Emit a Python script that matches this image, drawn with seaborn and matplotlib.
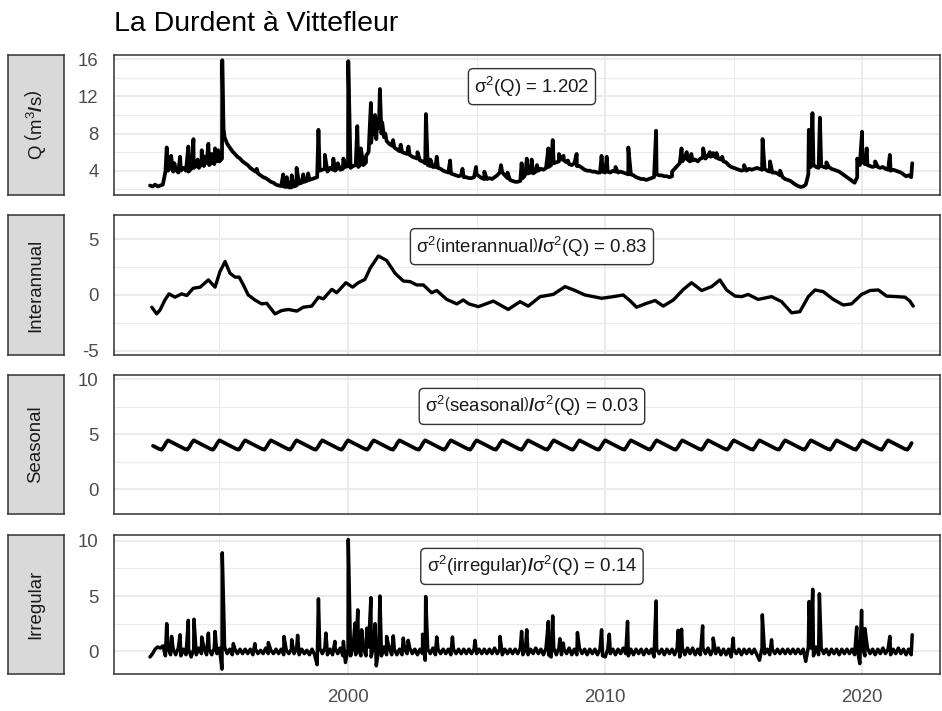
import numpy as np
import pandas as pd
import matplotlib
matplotlib.use("Agg")
import matplotlib.pyplot as plt
import seaborn as sns

# ---------------------------------------------------------------------------
# Daily discharge decomposition of La Durdent at Vittefleur (values in m3/s)
# ---------------------------------------------------------------------------
title = "La Durdent à Vittefleur"
panel_names = [r"Q $\left(\mathrm{m}^{3}\mathbf{/}\mathrm{s}\right)$",
               "Interannual", "Seasonal", "Irregular"]
variance_labels = [
    r"$\mathrm{σ}^{2}\left(\mathrm{Q}\right)$ = 1.202",
    r"$\mathrm{σ}^{2}\left(\mathrm{interannual}\right)\mathbf{/}\mathrm{σ}^{2}\left(\mathrm{Q}\right)$ = 0.83",
    r"$\mathrm{σ}^{2}\left(\mathrm{seasonal}\right)\mathbf{/}\mathrm{σ}^{2}\left(\mathrm{Q}\right)$ = 0.03",
    r"$\mathrm{σ}^{2}\left(\mathrm{irregular}\right)\mathbf{/}\mathrm{σ}^{2}\left(\mathrm{Q}\right)$ = 0.14",
]
year_ticks = [2000, 2010, 2020]
year_minor = [1995, 2005, 2015]

# observed discharge: background flow every 0.1 year from 1992.3
q_start = 1992.3
q_base = [
    2.4, 2.3, 2.5, 2.3, 2.4, 2.5, 3.9,
    4.0, 4.3, 3.9, 4.1, 3.8, 4.0, 4.3, 4.0, 3.9, 4.2,
    4.3, 4.5, 4.3, 4.7, 4.5, 4.8, 4.6, 4.9, 4.7, 5.0,
    5.0, 5.3, 7.6, 6.9, 6.5, 6.1, 5.8, 5.5, 5.3, 5.0,
    4.8, 4.6, 4.3, 4.1, 3.9, 3.7, 3.5, 3.3, 3.2, 3.0,
    2.8, 2.7, 2.5, 2.4, 2.35, 2.3, 2.25, 2.2, 2.2, 2.3,
    2.4, 2.6, 2.7, 2.8, 2.9, 3.0, 3.1, 3.2, 3.3, 4.0,
    4.1, 4.2, 3.9, 4.3, 4.1, 4.0, 4.3, 4.1, 4.2, 4.4,
    4.5, 4.3, 4.5, 4.6, 4.4, 4.7, 4.6, 4.9, 6.0, 7.0,
    8.0, 7.4, 8.6, 8.0, 7.6, 7.2, 6.9, 6.7, 6.5, 6.3,
    6.1, 6.0, 5.9, 5.8, 5.7, 5.5, 5.4, 5.3, 5.1, 5.0,
    4.8, 4.6, 4.5, 4.4, 4.4, 4.3, 4.2, 4.0, 3.9, 3.8,
    3.7, 3.6, 3.5, 3.4, 3.5, 3.3, 3.3, 3.2, 3.2, 3.3,
    3.6, 3.4, 3.2, 3.1, 3.1, 3.2, 3.1, 3.3, 3.5, 3.8,
    3.8, 3.5, 3.2, 3.0, 2.9, 2.8, 2.8, 2.9, 3.2, 3.6,
    3.7, 3.8, 3.7, 3.9, 4.0, 4.2, 4.1, 4.3, 4.4, 4.6,
    4.8, 4.9, 5.0, 5.2, 5.1, 4.9, 4.7, 4.6, 4.8, 4.5,
    4.5, 4.3, 4.1, 4.0, 4.0, 3.9, 3.9, 3.8, 3.8, 3.9,
    3.8, 3.9, 3.8, 4.0, 3.9, 3.8, 3.9, 3.8, 3.7, 3.6,
    3.6, 3.5, 3.3, 3.2, 3.1, 3.1, 3.0, 3.1, 3.2, 3.3,
    3.6, 3.5, 3.5, 3.4, 3.4, 3.3, 3.4, 4.2, 4.5, 4.8,
    5.0, 5.4, 5.2, 5.0, 5.1, 5.2, 5.0, 5.3, 5.4, 5.3,
    5.6, 5.5, 5.6, 5.4, 5.3, 5.2, 5.0, 4.9, 4.6, 4.4,
    4.3, 4.2, 4.1, 4.0, 4.1, 4.0, 4.2, 4.1, 4.2, 4.3,
    4.2, 4.1, 4.2, 4.0, 3.9, 3.8, 3.8, 3.7, 3.5, 3.3,
    3.1, 3.0, 2.9, 2.7, 2.5, 2.35, 2.25, 2.3, 2.5, 3.6,
    4.4, 4.6, 4.4, 4.3, 4.5, 4.4, 4.3, 4.4, 4.2, 4.1,
    4.0, 3.9, 3.7, 3.5, 3.3, 3.1, 2.9, 2.7, 3.3, 4.6,
    5.0, 4.7, 4.6, 4.5, 4.4, 4.5, 4.4, 4.3, 4.4, 4.2,
    4.1, 4.0, 4.1, 4.0, 3.9, 3.8, 3.6, 3.4, 3.5, 3.3,
]
# flood peaks
q_peak_year = [
    1992.95, 1993.12, 1993.25, 1993.47, 1993.79, 1993.99, 1994.15, 1994.31,
    1994.45, 1994.57, 1994.70, 1994.83, 1994.95, 1995.11, 1995.16, 1996.45,
    1997.48, 1997.62, 1997.81, 1998.00, 1998.26, 1998.45, 1998.85, 1999.10,
    1999.43, 1999.60, 1999.82, 2000.01, 2000.36, 2000.50, 2000.70, 2000.89,
    2000.97, 2001.05, 2001.14, 2001.24, 2001.33, 2001.45, 2001.75, 2002.05,
    2002.35, 2002.70, 2003.03, 2003.20, 2003.45, 2003.97, 2004.45, 2004.98,
    2005.30, 2005.95, 2006.20, 2006.75, 2006.95, 2007.14, 2007.35, 2007.79,
    2007.96, 2008.20, 2008.38, 2008.55, 2008.89, 2009.86, 2010.06, 2010.40,
    2010.90, 2011.98, 2012.60, 2012.97, 2013.17, 2013.35, 2013.81, 2014.07,
    2014.20, 2014.33, 2014.55, 2015.40, 2016.12, 2016.41, 2016.80, 2017.92,
    2018.06, 2018.35, 2018.60, 2019.80, 2019.99, 2020.17, 2020.50, 2021.07,
    2021.94,
]
q_peak_value = [
    6.5, 5.6, 4.8, 5.5, 6.6, 7.4, 5.2, 6.2,
    5.5, 6.9, 5.8, 6.4, 6.2, 15.9, 8.5, 4.2,
    3.6, 3.3, 3.5, 4.3, 3.6, 3.7, 8.4, 5.7,
    5.3, 4.8, 5.3, 15.8, 8.8, 6.4, 5.6, 11.3,
    9.0, 10.0, 9.6, 12.8, 9.2, 8.0, 7.3, 6.8,
    6.6, 6.0, 10.1, 5.2, 5.5, 5.1, 4.2, 4.4,
    3.9, 4.6, 3.8, 4.8, 5.3, 5.2, 4.6, 6.4,
    7.3, 5.8, 5.6, 5.1, 5.8, 5.6, 5.5, 4.4,
    6.5, 8.3, 3.9, 6.4, 6.0, 5.8, 6.4, 6.0,
    5.9, 5.9, 5.5, 4.6, 7.4, 5.0, 4.0, 8.4,
    10.2, 9.7, 4.9, 5.3, 8.2, 6.4, 5.0, 5.7,
    4.8,
]

# interannual component (anomaly)
trend_year = [
    1992.37, 1992.56, 1992.69, 1992.88, 1993.04, 1993.27, 1993.53, 1993.73,
    1993.98, 1994.25, 1994.57, 1994.83, 1995.02, 1995.22, 1995.41, 1995.61,
    1995.77, 1995.93, 1996.12, 1996.38, 1996.64, 1996.84, 1997.16, 1997.42,
    1997.68, 1998.01, 1998.26, 1998.59, 1998.85, 1999.04, 1999.37, 1999.56,
    1999.92, 2000.18, 2000.40, 2000.66, 2000.86, 2001.18, 2001.50, 2001.83,
    2002.15, 2002.41, 2002.67, 2002.93, 2003.25, 2003.45, 2003.84, 2004.23,
    2004.48, 2004.70, 2005.07, 2005.65, 2006.23, 2006.69, 2007.01, 2007.47,
    2007.98, 2008.44, 2008.83, 2009.21, 2009.54, 2009.86, 2010.32, 2010.70,
    2010.96, 2011.22, 2011.61, 2011.94, 2012.26, 2012.65, 2013.04, 2013.36,
    2013.75, 2014.14, 2014.46, 2014.72, 2015.05, 2015.31, 2015.56, 2015.95,
    2016.47, 2016.86, 2017.25, 2017.57, 2017.90, 2018.16, 2018.48, 2018.87,
    2019.26, 2019.58, 2019.97, 2020.30, 2020.62, 2020.94, 2021.33, 2021.66,
    2021.85, 2021.98,
]
trend_value = [
    -1.1, -1.7, -1.35, -0.45, 0.1, -0.2, 0.1, -0.05,
    0.6, 0.7, 1.35, 0.7, 2.1, 3.0, 1.95, 1.6,
    1.6, 0.9, 0.0, -0.45, -0.8, -0.75, -1.7, -1.4,
    -1.3, -1.45, -1.1, -1.0, -0.2, -0.35, 0.5, 0.2,
    1.1, 0.7, 1.1, 1.4, 2.4, 3.5, 3.1, 1.95,
    1.25, 1.2, 0.9, 0.9, 0.2, 0.4, -0.4, -0.8,
    -0.45, -0.8, -1.05, -0.55, -1.3, -0.6, -1.0, -0.15,
    0.05, 0.75, 0.4, 0.0, -0.15, -0.3, -0.15, 0.0,
    -0.5, -1.1, -0.75, -0.5, -1.0, -0.45, 0.5, 1.1,
    0.4, 0.75, 1.35, 0.45, -0.1, -0.15, 0.05, -0.4,
    -0.15, -0.6, -1.6, -1.5, -0.15, 0.45, 0.3, -0.4,
    -0.9, -0.8, 0.05, 0.4, 0.45, -0.1, -0.15, -0.2,
    -0.55, -1.0,
]

# seasonal cycle: one value per month, repeated every year
season_month = list(range(12))
season_value = [4.45, 4.35, 4.25, 4.15, 4.05, 3.95, 3.85, 3.75, 3.65, 3.6, 3.85, 4.2]
series_start, series_end = 1992.37, 2021.98

# irregular component: residual every 0.1 year plus flood residuals
irr_start = 1992.3
irr_base = [
    -0.5, -0.2, 0.2, 0.4, 0.3, 0.5, -0.4,
    0.3, -0.3, 0.2, -0.3, 0.3, -0.4, 0.2, -0.3, 0.2, -0.5,
    0.2, -0.3, 0.3, -0.2, 0.3, -0.3, 0.2, -0.3, 0.3, -0.2,
    0.3, -1.6, 0.4, -0.2, 0.2, -0.3, 0.2, -0.2, 0.2, -0.2,
    0.2, -0.2, 0.2, -0.3, 0.2, -0.2, 0.1, -0.2, 0.3, -0.2,
    0.1, -0.2, 0.2, -0.2, 0.2, -0.3, 0.1, -0.2, 0.2, -0.2,
    0.2, -0.3, 0.2, -0.2, 0.1, -0.3, 0.2, -0.3, -1.2, 0.3,
    -0.2, 0.3, -0.3, 0.2, -0.3, 0.3, -0.2, 0.3, -0.4, -1.0,
    0.2, -0.4, 0.4, -0.3, 0.3, -0.4, 0.3, -0.4, 0.4, -0.5,
    0.6, -1.3, 0.4, -0.4, 0.4, -0.3, 0.3, -0.3, 0.2, -0.3,
    0.2, -0.3, 0.2, -0.2, 0.3, -0.2, 0.2, -0.3, 0.2, -0.2,
    -0.8, 0.2, -0.2, 0.3, -0.3, 0.2, -0.2, 0.2, -0.2, 0.2,
    -0.3, 0.2, -0.2, 0.2, -0.2, 0.2, -0.2, 0.2, -0.2, 0.2,
    -0.2, 0.2, -0.2, 0.2, -0.2, 0.2, -0.2, 0.3, -0.2, 0.2,
    -0.3, 0.2, -0.2, 0.2, -0.2, 0.2, -0.2, 0.3, -0.3, 0.2,
    -0.3, 0.2, -0.2, 0.3, -0.2, 0.2, -0.3, 0.3, -0.3, -0.5,
    0.3, -0.3, 0.3, -0.3, 0.2, -0.2, 0.3, -0.3, 0.2, -0.3,
    0.3, -0.2, 0.2, -0.3, 0.2, -0.2, 0.2, -0.3, 0.2, -0.4,
    -0.5, 0.2, -0.2, 0.2, -0.3, 0.2, -0.2, 0.3, -0.2, -0.4,
    0.2, -0.3, 0.2, -0.2, 0.2, -0.3, 0.2, -0.2, 0.2, -0.5,
    0.2, -0.2, 0.2, -0.3, 0.2, -0.2, 0.2, -0.3, 0.3, -0.5,
    0.3, -0.3, 0.3, -0.2, 0.3, -0.3, 0.2, -0.3, 0.3, -0.2,
    0.3, -0.3, 0.2, -0.2, 0.3, -0.3, 0.2, -0.3, 0.2, -0.5,
    0.2, -0.2, 0.2, -0.3, 0.2, -0.2, 0.2, -0.2, 0.2, -0.3,
    -0.8, 0.3, -0.2, 0.2, -0.3, 0.2, -0.2, 0.2, -0.2, 0.2,
    -0.2, 0.2, -0.2, 0.2, -0.2, 0.2, -0.2, 0.2, -0.9, 0.4,
    0.3, -0.4, 0.4, -0.3, 0.3, -0.2, 0.2, -0.3, 0.2, -0.2,
    0.2, -0.3, 0.2, -0.2, 0.2, -0.2, 0.2, -0.3, 0.3, -1.1,
    0.4, -0.4, 0.3, -0.2, 0.2, -0.3, 0.2, -0.2, 0.3, -0.2,
    0.2, -0.3, 0.2, -0.2, 0.3, -0.2, 0.2, -0.3, 0.2, -0.3,
]
irr_peak_year = [
    1992.95, 1993.14, 1993.47, 1993.79, 1994.01, 1994.31, 1994.57, 1994.83,
    1995.11, 1995.54, 1996.38, 1996.90, 1997.51, 1997.81, 1998.04, 1998.85,
    1999.14, 1999.49, 1999.82, 2000.01, 2000.27, 2000.38, 2000.53, 2000.73,
    2000.89, 2001.05, 2001.24, 2001.50, 2001.76, 2002.15, 2002.34, 2002.90,
    2003.02, 2003.45, 2004.06, 2004.94, 2005.91, 2006.75, 2006.95, 2007.79,
    2007.96, 2008.24, 2008.37, 2008.92, 2009.86, 2010.16, 2010.87, 2011.98,
    2012.84, 2012.97, 2013.79, 2014.20, 2014.98, 2016.11, 2016.47, 2017.93,
    2018.07, 2018.33, 2019.78, 2019.97, 2020.10, 2021.07, 2021.94,
]
irr_peak_value = [
    2.5, 1.35, 1.5, 2.8, 2.9, 1.3, 1.65, 1.8,
    8.9, 0.7, 0.7, 0.8, 1.35, 1.05, 1.45, 4.75,
    1.65, 0.9, 0.9, 10.1, 2.55, 3.75, 1.95, 2.1,
    4.85, 2.5, 5.0, 1.35, 1.4, 1.2, 1.0, 1.55,
    4.95, 1.3, 1.3, 1.0, 1.35, 1.8, 1.95, 2.7,
    3.2, 1.15, 0.75, 1.7, 1.95, 1.55, 2.7, 4.55,
    1.9, 2.0, 2.3, 1.2, 1.2, 3.3, 1.05, 4.5,
    5.6, 5.2, 2.2, 3.7, 2.05, 1.35, 1.5,
]


def with_peaks(start, base, peak_year, peak_value):
    """Regular 0.1-year record with the flood peaks slotted in by date."""
    years = np.round(start + 0.1 * np.arange(len(base)), 2)
    frame = pd.DataFrame({"year": np.concatenate([years, peak_year]),
                          "value": np.concatenate([base, peak_value])})
    return frame.sort_values("year").reset_index(drop=True)


q_df = with_peaks(q_start, q_base, q_peak_year, q_peak_value)
irr_df = with_peaks(irr_start, irr_base, irr_peak_year, irr_peak_value)
trend_df = pd.DataFrame({"year": trend_year, "value": trend_value})

season_years = np.arange(1992, 2023)
season_df = pd.DataFrame({
    "year": (season_years[:, None] + np.array(season_month)[None, :] / 12.0).ravel(),
    "value": np.tile(season_value, len(season_years)),
})
season_df = season_df[(season_df.year >= series_start) & (season_df.year <= series_end)]

frames = [q_df, trend_df, season_df, irr_df]

# ---------------------------------------------------------------------------
# figure
# ---------------------------------------------------------------------------
sns.set_style("white")
plt.rcParams["font.family"] = ["Liberation Sans", "DejaVu Sans"]
plt.rcParams["mathtext.fontset"] = "custom"
plt.rcParams["mathtext.rm"] = "Liberation Sans"
plt.rcParams["mathtext.it"] = "Liberation Sans:italic"
plt.rcParams["mathtext.bf"] = "Liberation Sans:bold"

W, H = 942, 711
fig = plt.figure(figsize=(W / 100, H / 100), dpi=100)

panel_rows = [(55, 195), (215, 355), (375, 514), (535, 674)]
ylims = [(1.38, 16.46), (-5.39, 7.18), (-2.25, 10.39), (-2.04, 10.51)]
yticks = [[4, 8, 12, 16], [-5, 0, 5], [0, 5, 10], [0, 5, 10]]
yminor = [[2, 6, 10, 14], [-2.5, 2.5], [2.5, 7.5], [2.5, 7.5]]
line_widths = [2.7, 2.4, 2.7, 2.5]
xlim = (1990.90, 2023.02)
px_left, px_right = 114, 940
strip_left, strip_right = 8, 64

grid_col = "#EBEBEB"
frame_col = "#333333"
tick_col = "#4D4D4D"

for i, (top, bottom) in enumerate(panel_rows):
    ax = fig.add_axes([px_left / W, 1 - bottom / H,
                       (px_right - px_left) / W, (bottom - top) / H])
    sns.lineplot(data=frames[i], x="year", y="value", ax=ax, color="black",
                 linewidth=line_widths[i], estimator=None, zorder=3)
    ax.set_xlim(*xlim)
    ax.set_ylim(*ylims[i])
    ax.set_xticks(year_ticks)
    ax.set_xticks(year_minor, minor=True)
    ax.set_yticks(yticks[i])
    ax.set_yticks(yminor[i], minor=True)
    ax.grid(which="major", color=grid_col, linewidth=1.5)
    ax.grid(which="minor", color=grid_col, linewidth=0.8)
    ax.set_axisbelow(True)
    ax.set_xlabel("")
    ax.set_ylabel("")
    for sp in ax.spines.values():
        sp.set_color(frame_col)
        sp.set_linewidth(1.1)
        sp.set_zorder(5)
    ax.tick_params(axis="both", which="minor", length=0)
    ax.tick_params(axis="y", which="major", length=6.3, width=1.1,
                   color=frame_col, labelcolor=tick_col, labelsize=13.4, pad=4.8)
    if i < 3:
        ax.tick_params(axis="x", which="major", length=0, labelbottom=False)
    else:
        ax.tick_params(axis="x", which="major", length=6.3, width=1.1,
                       color=frame_col, labelcolor=tick_col, labelsize=13.4, pad=4.5)
    ax.set_yticklabels([f"{t:g}" for t in yticks[i]])

    ax.text(0.506, 0.774, variance_labels[i], transform=ax.transAxes,
            ha="center", va="center", fontsize=13.4, color="#1A1A1A", zorder=6,
            bbox=dict(boxstyle="round,pad=0.32,rounding_size=0.25",
                      fc="white", ec=frame_col, lw=1.0))

    # facet strip on the left
    sax = fig.add_axes([strip_left / W, 1 - bottom / H,
                        (strip_right - strip_left) / W, (bottom - top) / H])
    sax.set_facecolor("#D9D9D9")
    sax.set_xticks([])
    sax.set_yticks([])
    for sp in sax.spines.values():
        sp.set_color(frame_col)
        sp.set_linewidth(1.1)
    sax.text(0.5, 0.5, panel_names[i], rotation=90, ha="center", va="center",
             fontsize=13.4, color="#1A1A1A", transform=sax.transAxes)

fig.text(px_left / W, 1 - 31 / H, title, ha="left", va="baseline",
         fontsize=20.5, color="black")

fig.savefig("out.png", dpi=100)
